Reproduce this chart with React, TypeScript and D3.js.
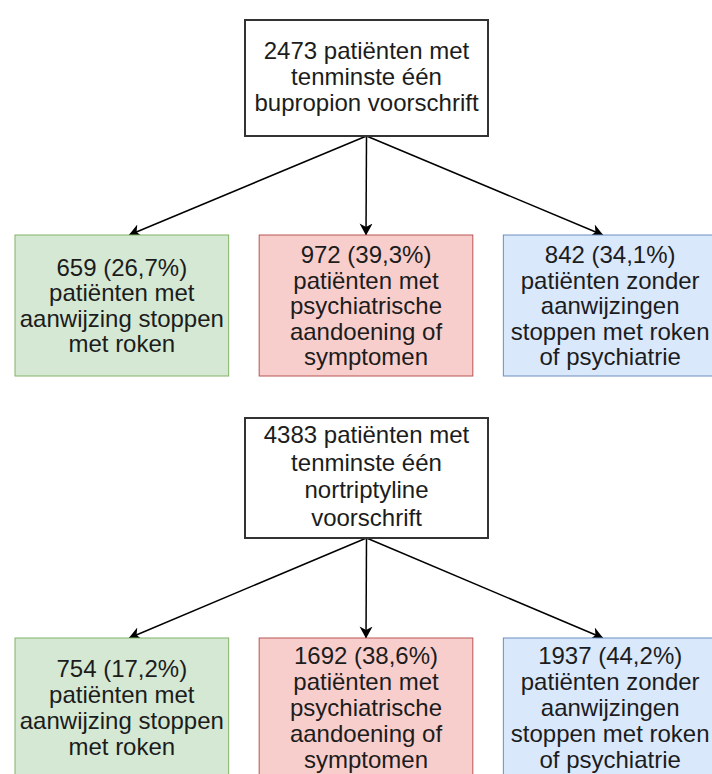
import * as d3 from "d3";
import { useEffect, useRef } from "react";

// groups (one block per medicine)
const drugs = ["bupropion", "nortriptyline"];
const totals = [2473, 4383];
const parentLines = [
  [`${totals[0]} patiënten met`, "tenminste één", "bupropion voorschrift"],
  [`${totals[1]} patiënten met`, "tenminste één", "nortriptyline", "voorschrift"],
];

// child categories
const categories = ["stoppen", "psychiatrie", "zonder"];
const counts = [
  [659, 972, 842],
  [754, 1692, 1937],
];
const percents = [
  ["26,7%", "39,3%", "34,1%"],
  ["17,2%", "38,6%", "44,2%"],
];
const categoryLines = [
  ["patiënten met", "aanwijzing stoppen", "met roken"],
  ["patiënten met", "psychiatrische", "aandoening of", "symptomen"],
  ["patiënten zonder", "aanwijzingen", "stoppen met roken", "of psychiatrie"],
];
const fills = ["#d5e8d4", "#f8cecc", "#dae8fc"];
const strokes = ["#82b366", "#b85450", "#6c8ebf"];

const App = () => {
  const ref = useRef<SVGSVGElement | null>(null);

  useEffect(() => {
    const svg = d3.select(ref.current);
    svg.selectAll("*").remove();

    const width = 712,
      height = 774;
    const font = "'Liberation Sans', Arial, Helvetica, sans-serif";

    svg
      .append("defs")
      .append("marker")
      .attr("id", "head")
      .attr("viewBox", "0 0 12 14")
      .attr("refX", 11.5)
      .attr("refY", 7)
      .attr("markerWidth", 12)
      .attr("markerHeight", 14)
      .attr("markerUnits", "userSpaceOnUse")
      .attr("orient", "auto")
      .append("path")
      .attr("d", "M0,0.5 L12,7 L0,13.5 L3.5,7 Z")
      .attr("fill", "#000");

    svg.append("rect").attr("width", width).attr("height", height).attr("fill", "#fff");

    // columns for the child boxes (the right one runs off the picture)
    const x = d3.scaleBand().domain(categories).range([15, 717]).paddingInner(0.125);
    const cx = (c: string) => x(c)! + x.bandwidth() / 2;

    // vertical layout of each block
    const parentTop = [20, 418];
    const parentH = [116, 120];
    const parentLH = [26, 27.5];
    const childTop = [235, 638];
    const childH = [141, 138];
    const childLH = [25.5, 26];
    const parentX0 = 245,
      parentX1 = 488;
    const parentCx = (parentX0 + parentX1) / 2;

    const writeLines = (
      g: d3.Selection<SVGGElement, unknown, null, undefined>,
      lines: string[],
      xc: number,
      yc: number,
      lh: number,
      size: number
    ) => {
      g.selectAll("text.l")
        .data(lines)
        .enter()
        .append("text")
        .attr("class", "l")
        .attr("x", xc)
        .attr("y", (_, i) => yc + (i - (lines.length - 1) / 2) * lh)
        .attr("text-anchor", "middle")
        .attr("dominant-baseline", "central")
        .attr("font-family", font)
        .attr("font-size", size)
        .attr("fill", "#1c1c1c")
        .text((d) => d);
    };

    drugs.forEach((drug, b) => {
      const block = svg.append("g").attr("class", `block-${drug}`);
      const yBottom = parentTop[b] + parentH[b];

      // arrows
      block
        .selectAll("line.arrow")
        .data(categories)
        .enter()
        .append("line")
        .attr("class", "arrow")
        .attr("x1", parentCx)
        .attr("y1", yBottom)
        .attr("x2", (c) => cx(c) + (parentCx - cx(c)) * 0.03)
        .attr("y2", childTop[b])
        .attr("stroke", "#000")
        .attr("stroke-width", 1.5)
        .attr("marker-end", "url(#head)");

      // parent box
      const pg = block.append("g");
      pg.append("rect")
        .attr("x", parentX0)
        .attr("y", parentTop[b])
        .attr("width", parentX1 - parentX0)
        .attr("height", parentH[b])
        .attr("fill", "#fff")
        .attr("stroke", "#333")
        .attr("stroke-width", 2);
      writeLines(pg, parentLines[b], parentCx, parentTop[b] + parentH[b] / 2 - 2, parentLH[b], 24);

      // child boxes
      categories.forEach((c, i) => {
        const cg = block.append("g");
        cg.append("rect")
          .attr("x", x(c)!)
          .attr("y", childTop[b])
          .attr("width", x.bandwidth())
          .attr("height", childH[b])
          .attr("fill", fills[i])
          .attr("stroke", strokes[i])
          .attr("stroke-width", 1);
        const lines = [`${counts[b][i]} (${percents[b][i]})`, ...categoryLines[i]];
        writeLines(cg, lines, cx(c), childTop[b] + childH[b] / 2, childLH[b], 24);
      });
    });
  }, []);

  return (
    <svg
      ref={ref}
      width={712}
      height={774}
      style={{ position: "absolute", left: 0, top: 0, display: "block" }}
    />
  );
};

export default App;
